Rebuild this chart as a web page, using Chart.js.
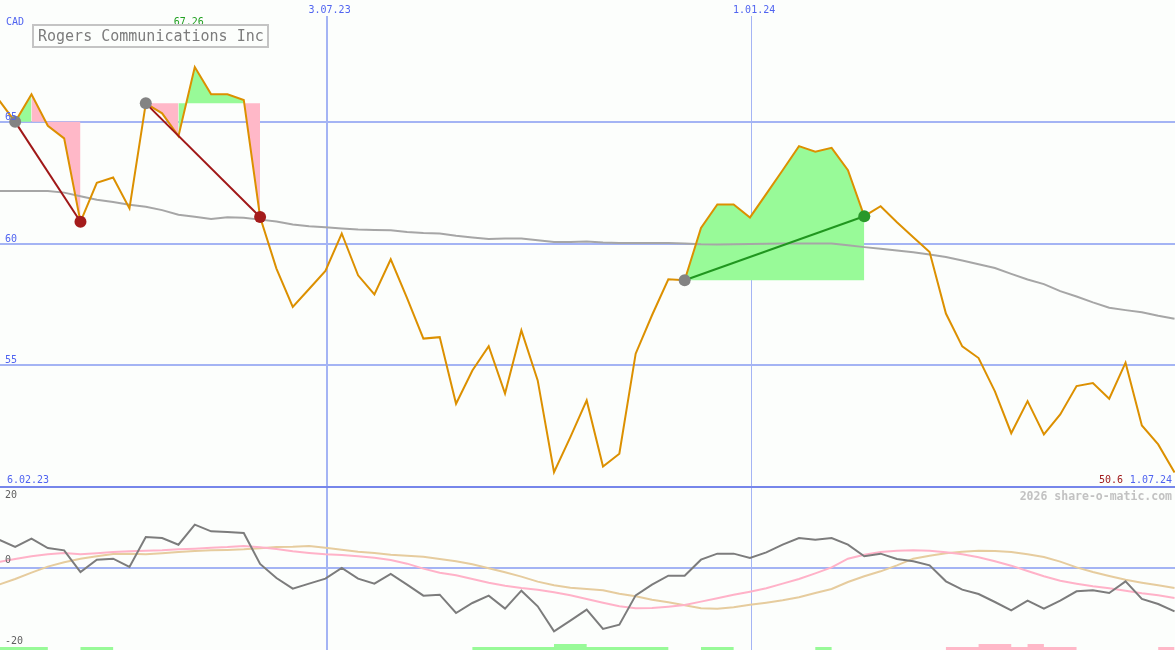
<!DOCTYPE html>
<html>
<head>
<meta charset="utf-8">
<title>Rogers Communications Inc</title>
<script src="https://cdn.jsdelivr.net/npm/chart.js@4.4.1/dist/chart.umd.min.js"></script>
<style>
  html, body { margin: 0; padding: 0; background: #fcfefc; }
  #wrap { position: relative; width: 1175px; height: 650px; overflow: hidden; background: #fcfefc; }
  #priceChart { position: absolute; left: 0; top: 0; }
  #oscChart { position: absolute; left: 0; top: 488px; }
  #titleBox {
    position: absolute; left: 32px; top: 24px; width: 237px; height: 24px;
    box-sizing: border-box; border: 2px solid #c4c4c4; padding-left: 4px;
    font: 15px "DejaVu Sans Mono", monospace; line-height: 20px; color: #7c7c7c;
    white-space: nowrap;
  }
</style>
</head>
<body>
<div id="wrap">
  <canvas id="priceChart" width="1175" height="488"></canvas>
  <canvas id="oscChart" width="1175" height="162"></canvas>
  <div id="titleBox">Rogers Communications Inc</div>
</div>
<script>
// x axis = days after 6.02.23, one point per week (first one 12.02.23, last 30.06.24),
// closes stamped at midday
const FIRST_DAY = 6.5;
const X_MIN = 7.0;
const X_MAX = 510.7;
const weekDay = i => FIRST_DAY + 7 * i;

const dateLines = [147, 329];               // 3.07.23, 1.01.24
const dateLabels = ["3.07.23", "1.01.24"];
const startLabel = "6.02.23";
const endLabel = "1.07.24";
const currency = "CAD";

const priceTicks = [50, 55, 60, 65];
const oscTicks = [20, 0, -20];

// weekly close
const closes = [
  65.91, 65.01, 66.14, 64.85, 64.33, 60.90, 62.50, 62.72, 61.45, 65.77,
  65.36, 64.42, 67.26, 66.14, 66.14, 65.91, 61.10, 58.98, 57.40, 58.14,
  58.88, 60.42, 58.70, 57.92, 59.36, 57.76, 56.10, 56.16, 53.42, 54.79,
  55.79, 53.84, 56.44, 54.38, 50.61, 52.05, 53.56, 50.84, 51.37, 55.48,
  57.06, 58.54, 58.50, 60.65, 61.61, 61.61, 61.08, 62.05, 63.02, 64.01,
  63.78, 63.94, 63.02, 61.13, 61.54, 60.88, 60.27, 59.66, 57.13, 55.78,
  55.30, 53.93, 52.21, 53.53, 52.16, 52.98, 54.15, 54.27, 53.63, 55.11,
  52.53, 51.75, 50.60
];

// long moving average (grey)
const movingAvg = [
  62.17, 62.17, 62.17, 62.17, 62.10, 61.95, 61.81, 61.71, 61.60, 61.52,
  61.38, 61.19, 61.11, 61.02, 61.09, 61.07, 60.99, 60.91, 60.79, 60.72,
  60.68, 60.63, 60.58, 60.56, 60.55, 60.48, 60.44, 60.42, 60.33, 60.26,
  60.19, 60.21, 60.21, 60.14, 60.07, 60.07, 60.09, 60.05, 60.03, 60.03,
  60.03, 60.03, 60.01, 59.98, 59.97, 59.98, 59.99, 60.00, 60.01, 60.01,
  60.01, 60.01, 59.94, 59.86, 59.79, 59.72, 59.65, 59.56, 59.45, 59.31,
  59.16, 59.00, 58.76, 58.53, 58.34, 58.05, 57.83, 57.59, 57.37, 57.27,
  57.18, 57.04, 56.92
];

// trend segments: index of start / end week in closes
const trendStarts = [1, 9, 42];
const trendEnds = [5, 16, 53];
const trendColors = ["#a01818", "#a01818", "#20961f"];
const trendEndDots = ["#a41c1c", "#a41c1c", "#28982a"];

// lower panel
const momentum = [
  7.76, 5.75, 8.04, 5.48, 4.84, -1.10, 2.28, 2.56, 0.27, 8.49,
  8.22, 6.39, 11.87, 10.05, 9.86, 9.59, 1.10, -2.74, -5.66, -4.29,
  -2.92, 0.00, -2.92, -4.29, -1.64, -4.57, -7.58, -7.31, -12.33, -9.59,
  -7.58, -11.14, -6.21, -10.50, -17.35, -14.43, -11.42, -16.71, -15.53, -7.49,
  -4.57, -2.10, -2.10, 2.28, 3.93, 3.93, 2.74, 4.29, 6.39, 8.22,
  7.76, 8.22, 6.39, 3.20, 3.93, 2.47, 1.83, 0.73, -3.65, -5.94,
  -7.12, -9.32, -11.60, -8.95, -11.14, -8.95, -6.39, -6.12, -6.85, -3.65,
  -8.49, -9.86, -11.87
];
const fastAvg = [
  1.64, 2.47, 3.20, 3.74, 4.11, 3.74, 4.02, 4.38, 4.57, 4.75,
  4.84, 5.11, 5.30, 5.57, 5.75, 6.03, 5.66, 5.21, 4.57, 4.11,
  3.74, 3.56, 3.20, 2.83, 2.19, 1.19, -0.18, -1.28, -2.01, -3.01,
  -4.02, -4.84, -5.48, -5.94, -6.67, -7.49, -8.49, -9.50, -10.50, -11.05,
  -10.96, -10.59, -10.14, -9.22, -8.31, -7.31, -6.48, -5.57, -4.29, -3.01,
  -1.46, 0.18, 2.56, 3.65, 4.38, 4.75, 4.84, 4.75, 4.29, 3.74,
  2.92, 1.83, 0.64, -0.82, -2.28, -3.47, -4.29, -5.02, -5.57, -6.21,
  -6.94, -7.49, -8.22
];
const slowAvg = [
  -4.57, -3.01, -1.28, 0.37, 1.55, 2.56, 3.20, 3.84, 3.93, 3.74,
  4.02, 4.38, 4.66, 4.84, 4.93, 5.11, 5.39, 5.75, 5.84, 6.03,
  5.57, 5.02, 4.47, 4.11, 3.65, 3.38, 3.11, 2.47, 1.83, 1.01,
  -0.09, -1.19, -2.37, -3.74, -4.75, -5.39, -5.75, -6.12, -7.03, -7.76,
  -8.68, -9.41, -10.23, -11.05, -11.14, -10.78, -10.05, -9.50, -8.86, -8.04,
  -6.85, -5.75, -3.84, -2.28, -0.91, 0.73, 2.56, 3.38, 4.02, 4.47,
  4.75, 4.66, 4.38, 3.74, 3.01, 1.74, 0.18, -1.10, -2.19, -3.20,
  -4.02, -4.75, -5.48
];
// signal strip at the bottom (level per week, held until next week)
const buyBars = [
  1, 1, 1, 0, 0, 1, 1, 0, 0, 0, 0, 0, 0, 0, 0, 0, 0, 0, 0, 0,
  0, 0, 0, 0, 0, 0, 0, 0, 0, 1, 1, 1, 1, 1, 2, 2, 1, 1, 1, 1,
  1, 0, 0, 1, 1, 0, 0, 0, 0, 0, 1, 0, 0, 0, 0, 0, 0, 0, 0, 0,
  0, 0, 0, 0, 0, 0, 0, 0, 0, 0, 0, 0, 0
];
const sellBars = [
  0, 0, 0, 0, 0, 0, 0, 0, 0, 0, 0, 0, 0, 0, 0, 0, 0, 0, 0, 0,
  0, 0, 0, 0, 0, 0, 0, 0, 0, 0, 0, 0, 0, 0, 0, 0, 0, 0, 0, 0,
  0, 0, 0, 0, 0, 0, 0, 0, 0, 0, 0, 0, 0, 0, 0, 0, 0, 0, 1, 1,
  2, 2, 1, 2, 1, 1, 0, 0, 0, 0, 0, 1, 0
];

const BLUE_TXT = "#5064f0";
const GRID = "#a4b4f4";
const GREEN_FILL = "#98fa98";
const PINK_FILL = "#ffb8c8";
const FONT = '10px "DejaVu Sans Mono", monospace';

const toPts = arr => arr.map((v, i) => ({ x: weekDay(i), y: v }));

function trendFill(p) {
  const s = trendStarts[p], e = trendEnds[p];
  const base = closes[s];
  const pts = [];
  for (let i = s; i <= e; i++) pts.push({ x: weekDay(i), y: closes[i] });
  return {
    data: pts,
    borderWidth: 0,
    borderColor: "rgba(0,0,0,0)",
    pointRadius: 0,
    backgroundColor: GREEN_FILL,
    fill: { target: { value: base } },
    segment: { backgroundColor: c => (c.p1.parsed.y >= base ? GREEN_FILL : PINK_FILL) },
    order: 10
  };
}

function trendLine(p) {
  const s = trendStarts[p], e = trendEnds[p];
  return {
    data: [{ x: weekDay(s), y: closes[s] }, { x: weekDay(e), y: closes[e] }],
    borderColor: trendColors[p],
    borderWidth: 2,
    pointRadius: 0,
    fill: false,
    order: 3
  };
}

const dotPts = [], dotColors = [];
trendStarts.forEach((s, p) => {
  dotPts.push({ x: weekDay(s), y: closes[s] });
  dotColors.push("#838383");
  const e = trendEnds[p];
  dotPts.push({ x: weekDay(e), y: closes[e] });
  dotColors.push(trendEndDots[p]);
});

const maxIdx = closes.indexOf(Math.max(...closes));

const priceLabels = {
  id: "priceLabels",
  afterDraw(chart) {
    const { ctx, scales: { x, y } } = chart;
    ctx.save();
    ctx.font = FONT;
    ctx.textBaseline = "alphabetic";
    ctx.fillStyle = BLUE_TXT;
    ctx.textAlign = "left";
    priceTicks.slice(1).forEach(v => ctx.fillText(String(v), 5, y.getPixelForValue(v) - 2));
    ctx.fillText(currency, 6, 25);
    ctx.fillText(startLabel, 7, 483);
    ctx.textAlign = "center";
    dateLines.forEach((d, i) => ctx.fillText(dateLabels[i], x.getPixelForValue(d) + 3, 13));
    ctx.textAlign = "right";
    ctx.fillText(endLabel, 1172, 483);
    ctx.fillStyle = "#a01c1c";
    ctx.fillText(closes[closes.length - 1].toFixed(1), 1123, 483);
    ctx.fillStyle = "#22a022";
    ctx.textAlign = "center";
    ctx.fillText(closes[maxIdx].toFixed(2), x.getPixelForValue(weekDay(maxIdx)) - 6, 25);
    ctx.restore();
  }
};

const oscLabels = {
  id: "oscLabels",
  afterDraw(chart) {
    const { ctx, scales: { y } } = chart;
    ctx.save();
    ctx.font = FONT;
    ctx.fillStyle = "#606060";
    ctx.textAlign = "left";
    ctx.textBaseline = "middle";
    oscTicks.forEach(v => {
      const off = v === 0 ? -8 : 0;
      ctx.fillText(String(v), 5, y.getPixelForValue(v) + off);
    });
    ctx.font = 'bold 11.5px "DejaVu Sans Mono", monospace';
    ctx.fillStyle = "#c2c2c2";
    ctx.textAlign = "right";
    ctx.textBaseline = "alphabetic";
    ctx.fillText("2026 share-o-matic.com", 1172, 12);
    ctx.restore();
  }
};

const xAxis = {
  type: "linear",
  min: X_MIN,
  max: X_MAX,
  ticks: { display: false },
  border: { display: false },
  grid: {
    drawTicks: false,
    color: GRID,
    lineWidth: c => (c.index === 0 ? 2 : 1)
  },
  afterBuildTicks: s => { s.ticks = dateLines.map(d => ({ value: d })); }
};

new Chart(document.getElementById("priceChart"), {
  type: "line",
  data: {
    datasets: [
      trendFill(0), trendFill(1), trendFill(2),
      {
        data: toPts(movingAvg),
        borderColor: "#a6a6a6",
        borderWidth: 2,
        pointRadius: 0,
        fill: false,
        order: 9
      },
      {
        data: toPts(closes),
        borderColor: "#dc9000",
        borderWidth: 2,
        pointRadius: 0,
        fill: false,
        order: 5
      },
      trendLine(0), trendLine(1), trendLine(2),
      {
        data: dotPts,
        showLine: false,
        pointRadius: 6,
        pointBorderWidth: 0,
        pointBackgroundColor: dotColors,
        order: 2
      }
    ]
  },
  options: {
    responsive: false,
    animation: false,
    events: [],
    layout: { padding: { top: 16, bottom: 1, left: 0, right: 0 }, autoPadding: false },
    plugins: { legend: { display: false }, tooltip: { enabled: false } },
    scales: {
      x: xAxis,
      y: {
        min: 50,
        max: 69.36,
        ticks: { display: false },
        border: { display: false },
        grid: {
          drawTicks: false,
          color: c => (c.tick.value === 50 ? "#7686ea" : GRID),
          lineWidth: 2
        },
        afterBuildTicks: s => { s.ticks = priceTicks.map(v => ({ value: v })); }
      }
    }
  },
  plugins: [priceLabels]
});

new Chart(document.getElementById("oscChart"), {
  type: "line",
  data: {
    datasets: [
      { data: toPts(slowAvg), borderColor: "#e6cc9e", borderWidth: 2, pointRadius: 0, fill: false, order: 6 },
      { data: toPts(fastAvg), borderColor: "#ffb2c8", borderWidth: 2, pointRadius: 0, fill: false, order: 5 },
      { data: toPts(momentum), borderColor: "#7c7c7c", borderWidth: 2, pointRadius: 0, fill: false, order: 4 },
      {
        data: toPts(buyBars), yAxisID: "yb", stepped: "before",
        borderWidth: 0, borderColor: "rgba(0,0,0,0)", pointRadius: 0,
        backgroundColor: GREEN_FILL, fill: "origin", order: 8
      },
      {
        data: toPts(sellBars), yAxisID: "yb", stepped: "before",
        borderWidth: 0, borderColor: "rgba(0,0,0,0)", pointRadius: 0,
        backgroundColor: PINK_FILL, fill: "origin", order: 8
      }
    ]
  },
  options: {
    responsive: false,
    animation: false,
    events: [],
    layout: { padding: 0, autoPadding: false },
    plugins: { legend: { display: false }, tooltip: { enabled: false } },
    scales: {
      x: xAxis,
      y: {
        min: -22.47,
        max: 21.92,
        ticks: { display: false },
        border: { display: false },
        grid: { drawTicks: false, color: GRID, lineWidth: 2 },
        afterBuildTicks: s => { s.ticks = [{ value: 0 }]; }
      },
      yb: { display: false, min: 0, max: 54 }
    }
  },
  plugins: [oscLabels]
});
</script>
</body>
</html>
